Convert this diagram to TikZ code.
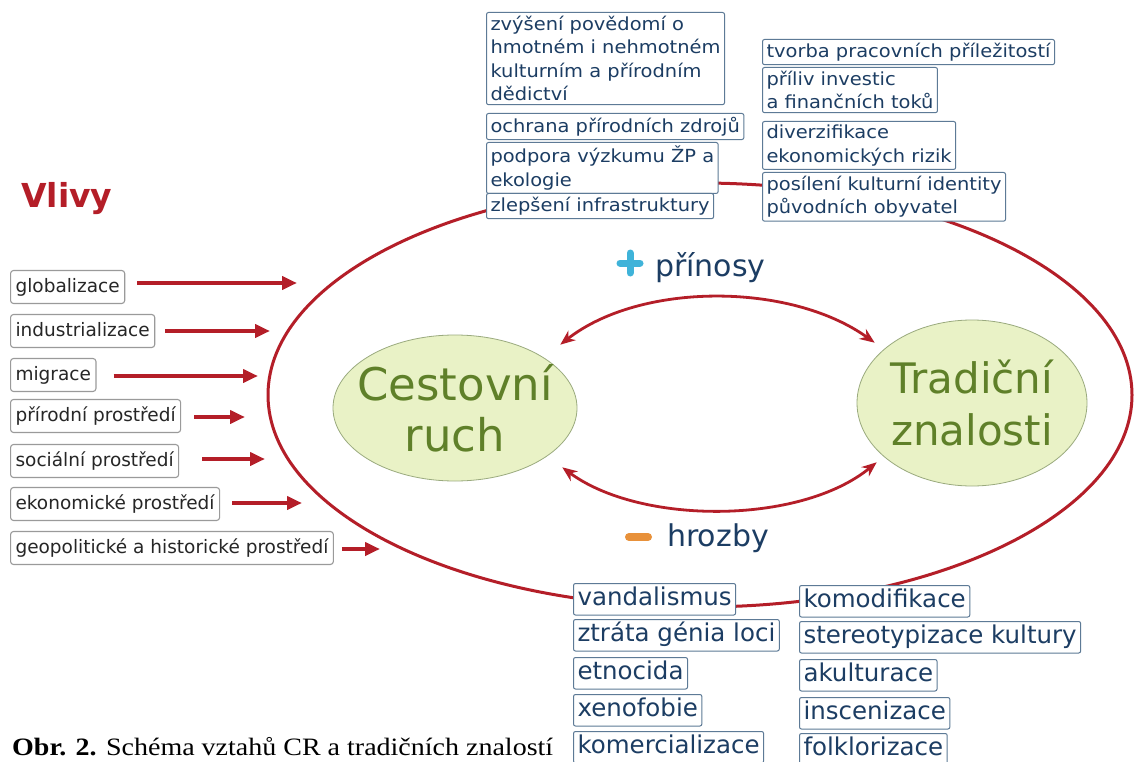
\documentclass[tikz,border=0pt]{standalone}
\usepackage{fontspec}
\setmainfont{DejaVu Sans}
\newfontfamily\topfont[FakeStretch=1.08]{DejaVu Sans}
\newfontfamily\capfont[FakeStretch=1.12]{Liberation Serif}
\usetikzlibrary{arrows.meta,shapes.geometric}
\definecolor{vred}{HTML}{B41E28}
\definecolor{navy}{HTML}{1C3D63}
\definecolor{boxblue}{HTML}{5D7A96}
\definecolor{boxgrey}{HTML}{9A9A9A}
\definecolor{egreen}{HTML}{E9F2C6}
\definecolor{eborder}{HTML}{9AAA7E}
\definecolor{etext}{HTML}{5F8029}
\definecolor{pluscol}{HTML}{3FB3D9}
\definecolor{minuscol}{HTML}{E8913A}
\begin{document}
\begin{tikzpicture}[x=1pt,y=-1pt,
  infbox/.style={draw=boxgrey, line width=1.1pt, rounded corners=3pt, fill=white,
    font=\fontsize{18.5}{22}\selectfont, text=black!85, inner xsep=5pt, inner ysep=7pt,
    text height=14.5pt, text depth=4.5pt, anchor=west},
  topbox/.style={draw=boxblue, line width=1pt, rounded corners=2pt, fill=white,
    font=\topfont\fontsize{18}{23.5}\selectfont, text=navy, inner xsep=4pt, inner ysep=3.5pt,
    align=left, anchor=north west},
  botbox/.style={draw=boxblue, line width=1pt, rounded corners=2pt, fill=white,
    font=\fontsize{24.5}{28}\selectfont, text=navy, inner xsep=4pt, inner ysep=4pt,
    text height=18pt, text depth=5.5pt, anchor=north west},
  infl/.style={draw=vred, line width=4pt, -{Triangle[length=15pt,width=13pt]}},
  dbl/.style={draw=vred, line width=2.8pt, {Stealth[length=15pt,width=12pt]}-{Stealth[length=15pt,width=12pt]}},
  greenell/.style={ellipse, draw=eborder, line width=0.8pt, fill=egreen, inner sep=0pt},
  etxt/.style={text=etext, align=center, inner sep=0pt},
  bigtxt/.style={text=navy, font=\fontsize{30}{34}\selectfont, inner sep=0pt, anchor=base west}
]
\useasboundingbox (0,0) rectangle (1135,762);
\clip (0,0) rectangle (1135,762);
\fill[white] (0,0) rectangle (1135,762);

% big red ellipse
\draw[vred, line width=3pt] (700,395) ellipse [x radius=432, y radius=212];

% green ellipses
\node[greenell, minimum width=244pt, minimum height=146pt,
  label={[etxt, font=\fontsize{45}{51}\selectfont]center:Cestovní\\ruch}] (cr) at (455,408) {};
\node[greenell, minimum width=230pt, minimum height=166pt,
  label={[etxt, font=\fontsize{42}{52}\selectfont]center:Tradiční\\znalosti}] (tz) at (972,403) {};

% double arrows
\draw[dbl] ([shift={(18.7,-11.4)}]cr.north east) .. controls (640,282) and (790,282) .. ([shift={(-15.7,-1.3)}]tz.north west);
\draw[dbl] ([shift={(20.7,7.4)}]cr.south east) .. controls (640,525) and (800,525) .. ([shift={(-13.7,0.3)}]tz.south west);

% plus / minus labels
\draw[pluscol, line width=7pt, line cap=round] (620,263) -- (640,263) (630,253) -- (630,273);
\node[bigtxt] (plus) at (655,276) {přínosy};
\draw[minuscol, line width=8pt, line cap=round] (629,537) -- (648,537);
\node[bigtxt] (minus) at (667,546) {hrozby};

% Vlivy
\node[anchor=west, text=vred, font=\bfseries\fontsize{33}{36}\selectfont, inner sep=0pt] (vlivy) at (21,199) {Vlivy};

% influence boxes
\node[infbox] (i1) at (10,287) {globalizace};
\node[infbox] (i2) at (10,331) {industrializace};
\node[infbox] (i3) at (10,375) {migrace};
\node[infbox] (i4) at (10,416) {přírodní prostředí};
\node[infbox] (i5) at (10,461) {sociální prostředí};
\node[infbox] (i6) at (10,504) {ekonomické prostředí};
\node[infbox] (i7) at (10,548) {geopolitické a historické prostředí};
\coordinate (t1) at (297,283);
\coordinate (t2) at (270,331);
\coordinate (t3) at (258,376);
\coordinate (t4) at (245,417);
\coordinate (t5) at (265,459);
\coordinate (t6) at (302,503);
\coordinate (t7) at (380,549);
\draw[infl] ([xshift=12pt]i1.east |- t1) -- (t1);
\draw[infl] ([xshift=10pt]i2.east |- t2) -- (t2);
\draw[infl] ([xshift=17pt]i3.east |- t3) -- (t3);
\draw[infl] ([xshift=13pt]i4.east |- t4) -- (t4);
\draw[infl] ([xshift=23pt]i5.east |- t5) -- (t5);
\draw[infl] ([xshift=12pt]i6.east |- t6) -- (t6);
\draw[infl] ([xshift=8pt]i7.east |- t7) -- (t7);

% top benefit boxes
\node[topbox] (b1) at (486,12) {zvýšení povědomí o\\hmotném i nehmotném\\kulturním a přírodním\\dědictví};
\node[topbox] (b2) at (486,113) {ochrana přírodních zdrojů};
\node[topbox] (b3) at (486,142) {podpora výzkumu ŽP a\\ekologie};
\node[topbox] (b4) at (486,193) {zlepšení infrastruktury};
\node[topbox] (b5) at (762,39) {tvorba pracovních příležitostí};
\node[topbox] (b6) at (762,67) {příliv investic\\a finančních toků};
\node[topbox] (b7) at (762,121) {diverzifikace\\ekonomických rizik};
\node[topbox] (b8) at (762,172) {posílení kulturní identity\\původních obyvatel};

% bottom threat boxes
\node[botbox] (h1) at (573,583) {vandalismus};
\node[botbox] (h2) at (573,619) {ztráta génia loci};
\node[botbox] (h3) at (573,657) {etnocida};
\node[botbox] (h4) at (573,694) {xenofobie};
\node[botbox] (h5) at (573,731) {komercializace};
\node[botbox] (h6) at (799,585) {komodifikace};
\node[botbox] (h7) at (799,621) {stereotypizace kultury};
\node[botbox] (h8) at (799,659) {akulturace};
\node[botbox] (h9) at (799,697) {inscenizace};
\node[botbox] (h10) at (799,733) {folklorizace};

% caption
\node[anchor=base west, inner sep=0pt, font=\capfont\fontsize{25}{28}\selectfont, text=black] (cap) at (12,755)
  {\textbf{Obr. 2.} Schéma vztahů CR a tradičních znalostí};
\end{tikzpicture}
\end{document}
